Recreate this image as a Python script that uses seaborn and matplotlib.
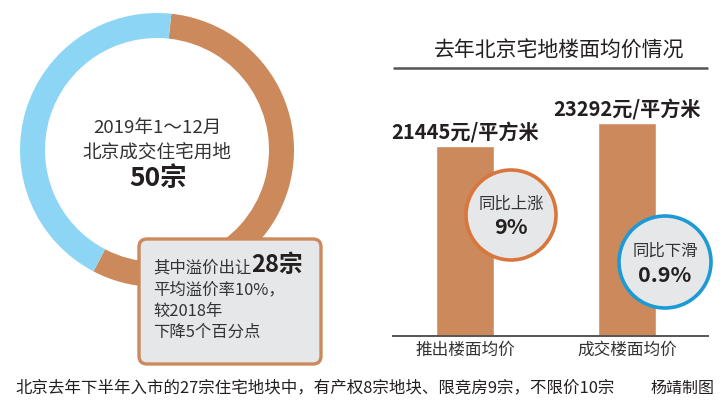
import numpy as np
import pandas as pd
import matplotlib
matplotlib.use("Agg")
import matplotlib.pyplot as plt
import seaborn as sns
from matplotlib.patches import FancyBboxPatch, Circle

# ---------------- data ----------------
donut_labels = ["溢价出让", "其他"]
donut_values = [28, 22]
center_lines = ["2019年1～12月", "北京成交住宅用地", "50宗"]
callout_head = ["其中溢价出让", "28宗"]
callout_lines = ["平均溢价率10%，", "较2018年", "下降5个百分点"]

title = "去年北京宅地楼面均价情况"
categories = ["推出楼面均价", "成交楼面均价"]
prices = [21445, 23292]
price_unit = "元/平方米"
yoy_labels = ["同比上涨", "同比下滑"]
yoy_values = ["9%", "0.9%"]

footer = "北京去年下半年入市的27宗住宅地块中，有产权8宗地块、限竞房9宗，不限价10宗"
credit = "杨靖制图"

# ---------------- style ----------------
ORANGE = "#CB895C"
BLUE = "#8DD5F5"
BOX_FILL = "#E6E7E9"
RING1 = "#D8763C"
RING2 = "#1B9AD6"
TXT = "#231F20"
LINE = "#555555"

sns.set_theme(style="white")
plt.rcParams['font.family'] = ['Noto Sans CJK SC', 'DejaVu Sans']

W, H = 725, 409
fig = plt.figure(figsize=(W / 100, H / 100), dpi=100)
fig.patch.set_facecolor("white")


def fx(px):
    return px / W


def fy(py):
    return 1 - py / H


# ---------------- donut ----------------
cx, cy, R = 157, 150, 137
ax_d = fig.add_axes([fx(cx - R), fy(cy + R), 2 * R / W, 2 * R / H])
ax_d.pie(donut_values, colors=[ORANGE, BLUE], startangle=84, counterclock=False,
         radius=1, wedgeprops=dict(width=25 / R, edgecolor="none", linewidth=0))
ax_d.set_xlim(-1, 1)
ax_d.set_ylim(-1, 1)
ax_d.axis("off")

# ---------------- bars ----------------
ax_b = fig.add_axes([fx(393), fy(336), fx(708) - fx(393), fy(100) - fy(336)])
df = pd.DataFrame({"cat": categories, "price": prices})
sns.barplot(data=df, x="cat", y="price", color=ORANGE, saturation=1,
            width=0.358, ax=ax_b)
ax_b.set_xlim(-0.444, 1.5)
ax_b.set_ylim(6184, 25134)
ax_b.set_facecolor("none")
ax_b.set_xlabel("")
ax_b.set_ylabel("")
ax_b.set_yticks([])
for s in ["top", "left", "right"]:
    ax_b.spines[s].set_visible(False)
ax_b.spines["bottom"].set_color(LINE)
ax_b.spines["bottom"].set_linewidth(1.4)
ax_b.tick_params(axis="x", length=0, pad=4, labelsize=12, labelcolor="#333333")
for i, v in enumerate(prices):
    ax_b.annotate(f"{v}{price_unit}", xy=(i, v), xytext=(0, 2),
                  textcoords="offset points", ha="center", va="bottom",
                  fontsize=14.5, fontweight="bold", color=TXT)

# ---------------- overlay ----------------
ax_o = fig.add_axes([0, 0, 1, 1])
ax_o.set_xlim(0, W)
ax_o.set_ylim(H, 0)
ax_o.axis("off")

# donut centre text
ax_o.text(157, 128, center_lines[0], ha="center", va="center", fontsize=13.4, color="#333333")
ax_o.text(157, 152, center_lines[1], ha="center", va="center", fontsize=13.4, color="#333333")
ax_o.text(158, 179, center_lines[2], ha="center", va="center", fontsize=19,
          fontweight="bold", color=TXT)

# callout box
box = FancyBboxPatch((139, 239), 182, 125, boxstyle="round,pad=0,rounding_size=8",
                     fc=BOX_FILL, ec=ORANGE, lw=2.4)
ax_o.add_patch(box)
t1 = ax_o.text(153, 268, callout_head[0], ha="left", va="center", fontsize=11.8, color="#333333")
ax_o.annotate(callout_head[1], xy=(1, 0), xycoords=t1, ha="left", va="bottom",
              fontsize=17, fontweight="bold", color=TXT)
for k, line in enumerate(callout_lines):
    ax_o.text(153, 290 + 21 * k, line, ha="left", va="center", fontsize=11.8, color="#333333")

# title and rule
ax_o.text(559, 51, title, ha="center", va="center", fontsize=15, fontweight="medium", color=TXT)
ax_o.plot([393, 708], [68, 68], color=LINE, lw=1.8, solid_capstyle="butt")

# yoy circles
circ_specs = [((511, 215), 45, RING1), ((665, 262), 46, RING2)]
for (center, r, ec), lab, val in zip(circ_specs, yoy_labels, yoy_values):
    ax_o.add_patch(Circle(center, r, fc=BOX_FILL, ec=ec, lw=2.6))
    ax_o.text(center[0], center[1] - 11, lab, ha="center", va="center",
              fontsize=11.8, color="#333333")
    ax_o.text(center[0], center[1] + 13, val, ha="center", va="center",
              fontsize=15.5, fontweight="bold", color=TXT)

# footer
ax_o.text(15, 388, footer, ha="left", va="center", fontsize=11.85, color=TXT)
ax_o.text(714, 388, credit, ha="right", va="center", fontsize=11.5, color=TXT)

fig.savefig("out.png", dpi=100)
